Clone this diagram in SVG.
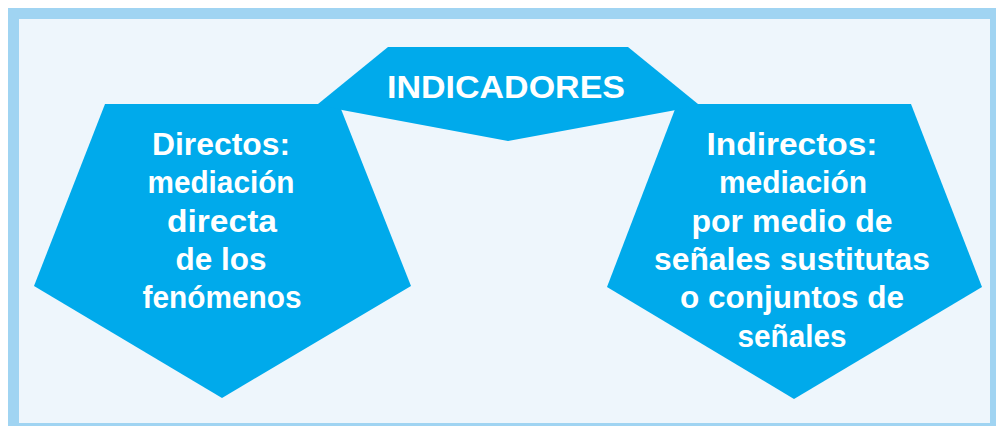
<svg xmlns="http://www.w3.org/2000/svg" width="996" height="426" viewBox="0 0 996 426">
<style>
.shape{fill:#00AAEB;}
.lbl{font-family:"Liberation Sans",Arial,sans-serif;font-weight:bold;font-size:31px;fill:#FFFFFF;text-anchor:middle;}
</style>
<rect x="13.5" y="13.5" width="982" height="415" fill="#EEF6FC" stroke="#A0D4F2" stroke-width="11"/>
<g id="node-directos">
<polygon class="shape" points="105,104 339,104 411,286 222,398 34,286"/>
<text class="lbl" x="221" y="155" textLength="138" lengthAdjust="spacingAndGlyphs">Directos:</text>
<text class="lbl" x="221" y="193" textLength="147" lengthAdjust="spacingAndGlyphs">mediación</text>
<text class="lbl" x="222" y="232" textLength="110" lengthAdjust="spacingAndGlyphs">directa</text>
<text class="lbl" x="221" y="270" textLength="91" lengthAdjust="spacingAndGlyphs">de los</text>
<text class="lbl" x="222" y="308" textLength="159" lengthAdjust="spacingAndGlyphs">fenómenos</text>
</g>
<g id="node-indirectos">
<polygon class="shape" points="677,104 911,104 982,287 794,399 607,287"/>
<text class="lbl" x="792" y="155" textLength="171" lengthAdjust="spacingAndGlyphs">Indirectos:</text>
<text class="lbl" x="793" y="193" textLength="148" lengthAdjust="spacingAndGlyphs">mediación</text>
<text class="lbl" x="792" y="232" textLength="201" lengthAdjust="spacingAndGlyphs">por medio de</text>
<text class="lbl" x="792" y="270" textLength="276" lengthAdjust="spacingAndGlyphs">señales sustitutas</text>
<text class="lbl" x="792" y="308" textLength="224" lengthAdjust="spacingAndGlyphs">o conjuntos de</text>
<text class="lbl" x="792" y="347" textLength="109" lengthAdjust="spacingAndGlyphs">señales</text>
</g>
<g id="node-indicadores">
<polygon class="shape" points="388,47 628,47 698,104 676,110 508,141 342,110 318,104"/>
<text class="lbl" x="506" y="98" font-size="33" textLength="238" lengthAdjust="spacingAndGlyphs">INDICADORES</text>
</g>
</svg>
